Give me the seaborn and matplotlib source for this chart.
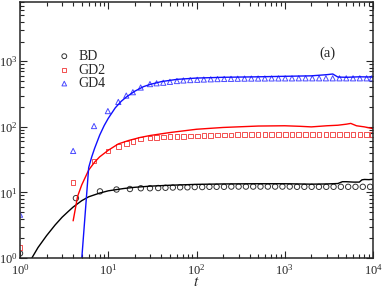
import numpy as np
import pandas as pd
import seaborn as sns
import matplotlib
matplotlib.use("Agg")
import matplotlib.pyplot as plt

# ------------------------------- data -----------------------------------------
# simulation markers
t_bd = [1, 4.3, 8.05, 12.4, 17.6, 23.4, 29.7, 36.8, 44.5, 53.9, 65.2, 78.9,
        95.5, 116, 140, 169, 205, 248, 300, 363, 439, 531, 643, 778, 941,
        1139, 1378, 1667, 2018, 2441, 2954, 3575, 4325, 5234, 6333, 7663, 9272]
y_bd = [1.18, 8.2, 10.4, 11.1, 11.3, 11.6, 11.6, 11.7, 11.8, 11.9, 12.0, 12.0,
        12.1, 12.1, 12.2, 12.2, 12.2, 12.3, 12.3, 12.3, 12.3, 12.3, 12.3, 12.3,
        12.3, 12.3, 12.2, 12.2, 12.2, 12.2, 12.2, 12.2, 12.2, 12.2, 12.2, 12.2,
        12.2]

t_gd = [1, 4, 6.9, 9.9, 13, 16, 19, 23.3, 29.7, 35.3, 42, 50, 60, 71, 85, 102,
        121, 145, 173, 206, 246, 293, 350, 418, 499, 595, 710, 848, 1012, 1208,
        1442, 1721, 2054, 2452, 2927, 3494, 4171, 4978, 5942, 7093, 8467, 9700]
y_gd2 = [1.44, 14.1, 30, 43, 50, 56, 60, 65, 68, 69, 70, 71, 72, 72, 73, 73,
         74, 74, 75, 75, 75, 76, 76, 76, 76, 77, 77, 77, 77, 77, 77, 77, 77, 77,
         77, 77, 77, 77, 77, 77, 77, 77]
y_gd4 = [4.6, 43, 103, 174, 240, 300, 338, 398, 449, 462, 471, 486, 500, 510,
         517, 522, 527, 531, 535, 538, 540, 542, 544, 545, 546, 547, 548, 548,
         549, 549, 550, 550, 550, 550, 550, 550, 550, 550, 550, 550, 550, 550]

# theory / mean-field curves
t_bd_line = [1.36, 1.6, 2, 2.5, 3, 3.5, 4, 5, 6, 8, 10, 15, 20, 30, 50, 100,
             200, 500, 1000, 2000, 3000, 4000, 4500, 5000, 6000, 7000, 7500,
             8000, 9000, 10000]
y_bd_line = [1.0, 1.45, 2.2, 3.2, 4.2, 5.1, 6.0, 7.5, 8.6, 9.8, 10.6, 11.5,
             12.0, 12.5, 12.9, 13.3, 13.5, 13.6, 13.6, 13.4, 13.5, 13.7, 14.6,
             14.6, 14.4, 14.4, 15.6, 15.8, 15.7, 15.9]

t_gd2_line = [4, 4.5, 5, 6, 7, 8, 10, 13, 17, 23, 30, 50, 100, 200, 500, 1000,
              1500, 2000, 3000, 4000, 5000, 5600, 6500, 8000, 10000]
y_gd2_line = [3.7, 8.8, 13, 22, 29, 35, 44, 55, 62, 69, 74, 82, 92, 98, 103,
              104, 102, 100, 104, 106, 110, 113, 104, 100, 94]

t_gd4_line = [5, 6, 6.5, 7, 8, 9, 10, 12, 14, 16, 20, 25, 30, 40, 60, 100, 200,
              500, 1000, 2000, 3000, 3500, 4000, 5000, 7000, 10000]
y_gd4_line = [0.95, 24, 35, 47, 75, 105, 135, 195, 245, 285, 350, 410, 445, 490,
              530, 555, 570, 580, 590, 600, 625, 640, 575, 570, 580, 575]

# ------------------------------- style ----------------------------------------
sns.set_style("ticks")
plt.rcParams["font.family"] = ["Liberation Serif", "DejaVu Serif"]
plt.rcParams["mathtext.fontset"] = "stix"

fig = plt.figure(figsize=(3.82, 2.90), dpi=100)
ax = fig.add_axes([0.0524, 0.11, 0.924, 0.883])

# lines
sns.lineplot(x=t_bd_line, y=y_bd_line, color="black", lw=1.0, ax=ax,
             estimator=None, sort=False)
sns.lineplot(x=t_gd2_line, y=y_gd2_line, color="#ff0000", lw=1.0, ax=ax,
             estimator=None, sort=False)
sns.lineplot(x=t_gd4_line, y=y_gd4_line, color="#1010ff", lw=1.0, ax=ax,
             estimator=None, sort=False)

# markers
sns.scatterplot(x=t_bd, y=y_bd, marker="o", s=15, facecolor="none",
                edgecolor="#333333", linewidth=0.7, label="BD", ax=ax)
sns.scatterplot(x=t_gd, y=y_gd2, marker="s", s=11, facecolor="none",
                edgecolor="#f25050", linewidth=0.7, label="GD2", ax=ax)
sns.scatterplot(x=t_gd, y=y_gd4, marker="^", s=14, facecolor="none",
                edgecolor="#4a4aff", linewidth=0.7, label="GD4", ax=ax)

ax.set_xscale("log")
ax.set_yscale("log")
ax.set_xlim(1, 1e4)
ax.set_ylim(1, 8000)

ax.tick_params(which="both", direction="in", top=True, right=True,
               labelsize=9, width=0.8)
ax.tick_params(axis="y", pad=2)
ax.tick_params(which="major", length=5)
ax.tick_params(which="minor", length=2.8)
for s in ax.spines.values():
    s.set_linewidth(1.1)

ax.set_xlabel("$t$", fontsize=11, labelpad=-1)
ax.set_ylabel("")

ax.text(0.87, 0.80, "(a)", transform=ax.transAxes, fontsize=10.5,
        ha="center", va="center")

ax.legend(loc="upper left", bbox_to_anchor=(0.09, 0.835), frameon=False,
          fontsize=10, handletextpad=0.5, labelspacing=0.05,
          borderaxespad=0, handlelength=1.0, markerscale=0.9)

fig.savefig("out.png", dpi=100)
